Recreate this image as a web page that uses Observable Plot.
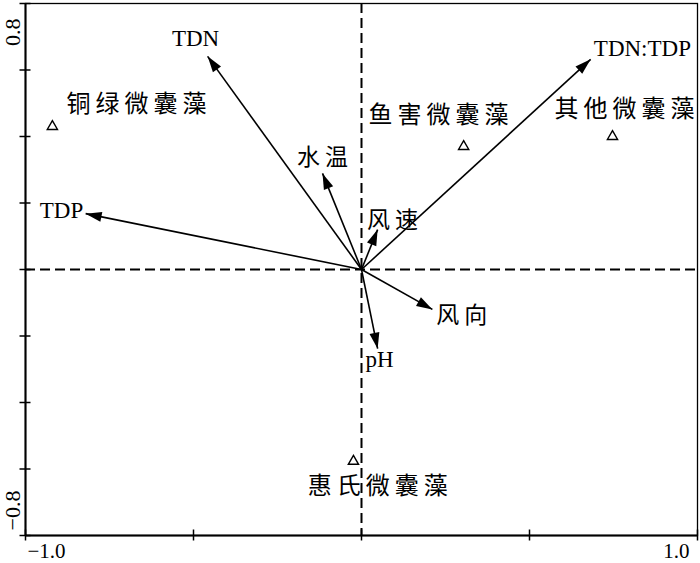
<!DOCTYPE html>
<html><head><meta charset="utf-8">
<script src="https://cdn.jsdelivr.net/npm/d3@7"></script>
<script src="https://cdn.jsdelivr.net/npm/@observablehq/plot@0.6"></script>
<style>body{margin:0;background:#fff} svg{display:block}</style>
</head><body><div id="chart"></div>
<script>
// Environmental variables (arrows)
const variables = ["TDN", "TDN:TDP", "TDP", "水温", "风速", "风向", "pH"];
const varX = [-0.458, 0.682, -0.821, -0.116, 0.048, 0.211, 0.048];
const varY = [0.641, 0.632, 0.168, 0.289, 0.120, -0.120, -0.238];
const varLabelX = [-0.494, 0.836, -0.893, -0.116, 0.092, 0.298, 0.054];
const varLabelY = [0.695, 0.665, 0.177, 0.337, 0.147, -0.138, -0.271];

// Species (triangles)
const species = ["铜绿微囊藻", "鱼害微囊藻", "其他微囊藻", "惠氏微囊藻"];
const spX = [-0.920, 0.304, 0.747, -0.024];
const spY = [0.430, 0.370, 0.400, -0.577];
const spLabelX = [-0.670, 0.229, 0.783, 0.048];
const spLabelY = [0.496, 0.463, 0.481, -0.653];

// Axes
const xDomain = [-1, 1];
const yDomain = [-0.8, 0.8];
const xTicks = [-1, -0.5, 0, 0.5, 1];
const yTicks = [-0.8, -0.6, -0.4, -0.2, 0, 0.2, 0.4, 0.6, 0.8];
const xTickLabelValues = [-1, 1];
const xTickLabels = ["−1.0", "1.0"];
const yTickLabelValues = [-0.8, 0.8];
const yTickLabels = ["−0.8", "0.8"];

const latin = "'Liberation Serif', 'Noto Sans CJK SC', serif";
const idx = variables.map((d, i) => i);
const sidx = species.map((d, i) => i);

const plot = Plot.plot({
  width: 700,
  height: 563,
  marginLeft: 25,
  marginRight: 3,
  marginTop: 3,
  marginBottom: 28,
  x: {domain: xDomain},
  y: {domain: yDomain},
  style: {fontFamily: latin, background: "#fff", color: "#000"},
  marks: [
    Plot.frame({stroke: "#000", strokeWidth: 1.3}),
    Plot.ruleX([0], {stroke: "#000", strokeWidth: 2, strokeDasharray: "10,5"}),
    Plot.ruleY([0], {stroke: "#000", strokeWidth: 2, strokeDasharray: "10,5"}),
    Plot.ruleX([xDomain[0]], {stroke: "#000", strokeWidth: 2}),
    Plot.ruleY([yDomain[0]], {stroke: "#000", strokeWidth: 2}),
    Plot.axisX(xTicks, {anchor: "bottom", tickSize: 11, dy: -5.5, tickFormat: () => "", stroke: "#000", strokeWidth: 1.5}),
    Plot.axisY(yTicks, {anchor: "left", tickSize: 11, dx: 5.5, tickFormat: () => "", stroke: "#000", strokeWidth: 1.5}),
    // tick labels
    Plot.text([0], {x: i => xTickLabelValues[i], frameAnchor: "bottom", text: i => xTickLabels[i],
      textAnchor: "start", lineAnchor: "top", dx: 2, dy: 8, fontSize: 21, fill: "#000"}),
    Plot.text([1], {x: i => xTickLabelValues[i], frameAnchor: "bottom", text: i => xTickLabels[i],
      textAnchor: "end", lineAnchor: "top", dx: -8, dy: 8, fontSize: 21, fill: "#000"}),
    Plot.text([1], {y: i => yTickLabelValues[i], frameAnchor: "left", text: i => yTickLabels[i],
      rotate: -90, textAnchor: "end", lineAnchor: "bottom", dx: -6, dy: 15, fontSize: 22, fill: "#000"}),
    Plot.text([0], {y: i => yTickLabelValues[i], frameAnchor: "left", text: i => yTickLabels[i],
      rotate: -90, textAnchor: "start", lineAnchor: "bottom", dx: -6, dy: -5, fontSize: 22, fill: "#000"}),
    // arrows
    Plot.link(idx, {x1: 0, y1: 0, x2: i => varX[i], y2: i => varY[i], stroke: "#000", strokeWidth: 1.6, markerEnd: "arrow"}),
    Plot.text(idx, {x: i => varLabelX[i], y: i => varLabelY[i], text: i => variables[i], fontSize: 23, fill: "#000"}),
    // species
    Plot.dot(sidx, {x: i => spX[i], y: i => spY[i], symbol: "triangle", r: 3.8, stroke: "#000", strokeWidth: 1.4, fill: "none"}),
    Plot.text(sidx, {x: i => spLabelX[i], y: i => spLabelY[i], text: i => species[i], fontSize: 24, fill: "#000"})
  ]
});

// filled arrowheads
plot.querySelectorAll("marker").forEach(m => {
  m.setAttribute("viewBox", "-17 -6 18 12");
  m.setAttribute("markerUnits", "userSpaceOnUse");
  m.setAttribute("markerWidth", "18");
  m.setAttribute("markerHeight", "12");
  m.setAttribute("refX", "0");
  m.setAttribute("refY", "0");
  m.setAttribute("fill", "#000");
  m.setAttribute("stroke", "none");
  m.innerHTML = '<path d="M0,0L-16,-5L-16,5Z"></path>';
});
// CJK letter spacing
plot.querySelectorAll("text").forEach(t => {
  if (/[\u4e00-\u9fff]/.test(t.textContent)) {
    t.style.letterSpacing = "5px";
    t.setAttribute("dx", "2.5");
  }
});
document.getElementById("chart").appendChild(plot);
</script>
</body></html>
